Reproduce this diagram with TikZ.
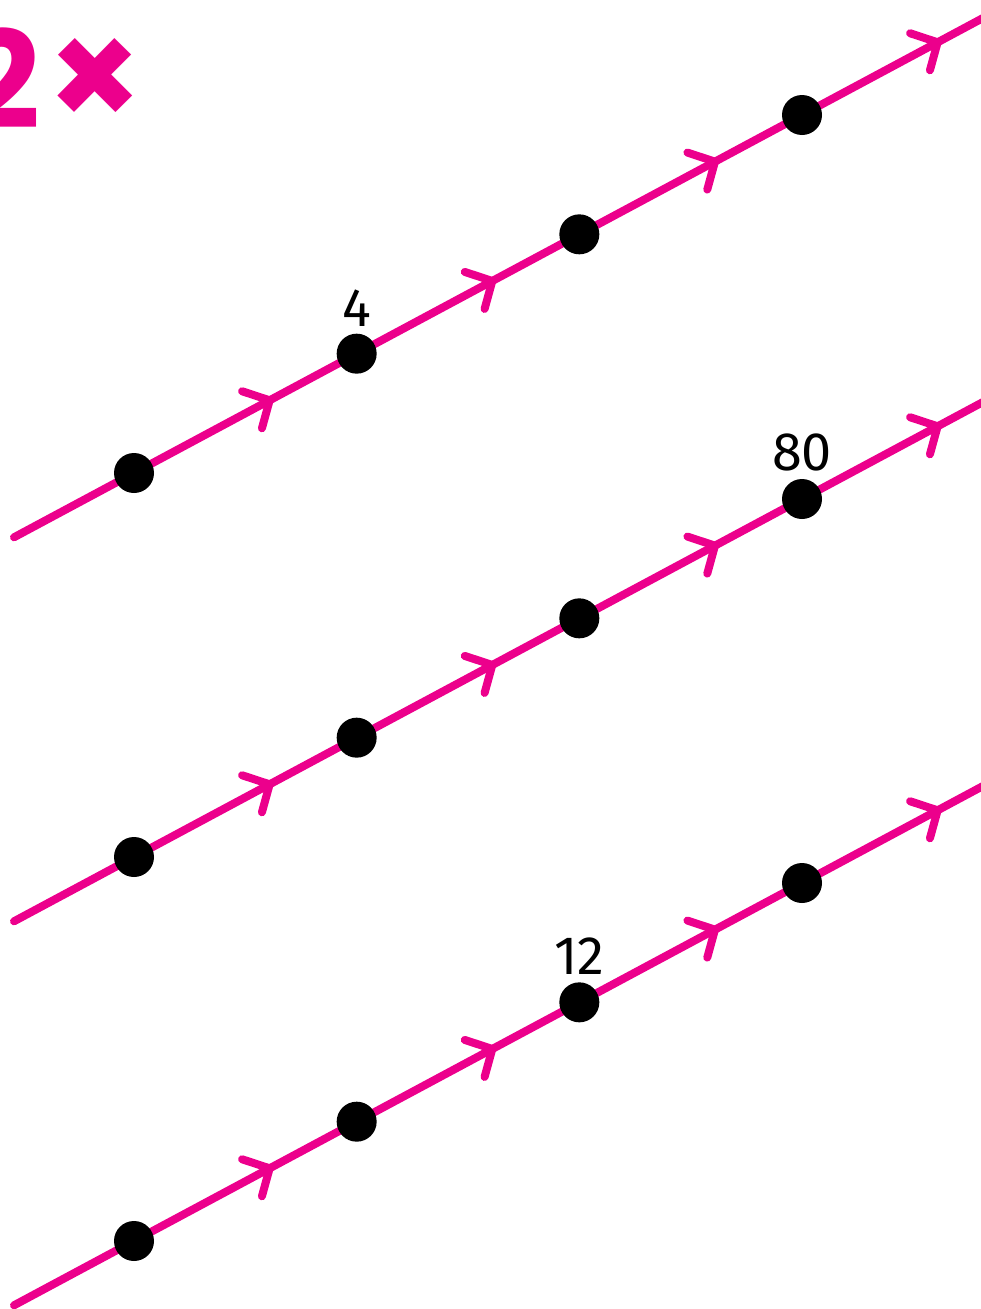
\documentclass[tikz,border=0pt]{standalone}
\usepackage{fontspec}
\setmainfont{Fira Sans}
\newfontfamily\titlefont{Poppins}
\usetikzlibrary{arrows.meta,decorations.markings,backgrounds}
\definecolor{linepink}{RGB}{236,0,140}

\begin{document}
\begin{tikzpicture}[x=1pt, y=-1pt,
    dot/.style={circle, fill=black, inner sep=0pt, minimum size=40pt},
    every label/.style={inner sep=0pt, font=\fontsize{54}{54}\selectfont},
    pinkline/.style={draw=linepink, line width=8pt, line cap=round},
    midarrow/.style={decoration={markings, mark=at position 0.625 with
      {\arrow{Straight Barb[length=20pt, width=42pt, round]}}}, postaction={decorate}}]
  \useasboundingbox (0,0) rectangle (980,1309);
  \node[anchor=base east, inner sep=0pt, text=linepink,
    font=\titlefont\bfseries\fontsize{135}{135}\selectfont] (title) at (143,128)
    {2\kern7pt{\fontsize{150}{150}\selectfont ×}};
  % top line
  \coordinate (a0) at (14,537.3);
  \node[dot] (a1) at (134,473) {};
  \node[dot, label={[label distance=7pt]above:4}] (a2) at (356.67,353.67) {};
  \node[dot] (a3) at (579.33,234.33) {};
  \node[dot] (a4) at (802,115) {};
  \coordinate (a5) at (1024.67,-4.33);
  % middle line
  \coordinate (b0) at (14,921.3);
  \node[dot] (b1) at (134,857) {};
  \node[dot] (b2) at (356.67,737.67) {};
  \node[dot] (b3) at (579.33,618.33) {};
  \node[dot, label={[label distance=7pt]above:80}] (b4) at (802,499) {};
  \coordinate (b5) at (1024.67,379.67);
  % bottom line
  \coordinate (c0) at (14,1305.3);
  \node[dot] (c1) at (134,1241) {};
  \node[dot] (c2) at (356.67,1121.67) {};
  \node[dot, label={[label distance=7pt]above:12}] (c3) at (579.33,1002.33) {};
  \node[dot] (c4) at (802,883) {};
  \coordinate (c5) at (1024.67,763.67);
  \begin{scope}[on background layer]
    \foreach \r in {a,b,c} {
      \draw[pinkline] (\r0) -- (\r1.center);
      \foreach \i/\j in {1/2,2/3,3/4,4/5}
        \draw[pinkline, midarrow] (\r\i.center) -- (\r\j.center);
    }
  \end{scope}
\end{tikzpicture}
\end{document}
